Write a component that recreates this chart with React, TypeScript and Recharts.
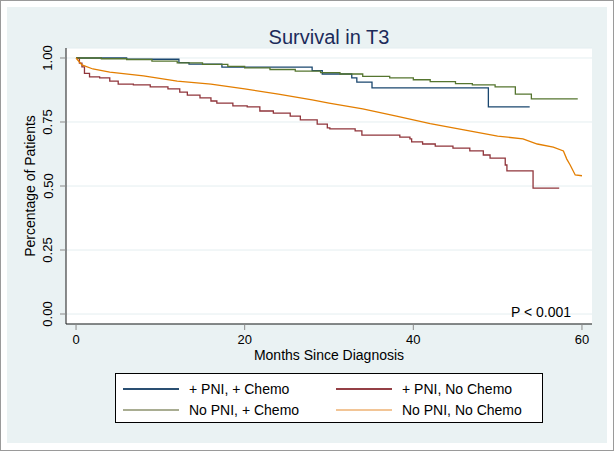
import { LineChart, Line, XAxis, YAxis, CartesianGrid } from "recharts"

// Kaplan-Meier estimates (months, survival fraction)
const pniChemoMonths = [0, 6, 12.2, 13.4, 17.3, 28, 29.2, 32.7, 33.3, 35.1, 48.9, 53.8]
const pniChemoSurv = [1, 0.995, 0.982, 0.976, 0.964, 0.951, 0.9375, 0.922, 0.906, 0.883, 0.809, 0.809]

const pniNoChemoMonths = [
  0, 0.4, 0.7, 1.0, 1.6, 2.8, 4.0, 5.0, 6.8, 8.8, 10.9, 12.3, 13.2, 14.7, 16.0, 16.7, 18.6, 20.3,
  21.8, 23.4, 25.4, 26.6, 28.6, 29.8, 30.1, 33.1, 33.9, 38.4, 39.6, 39.8, 41.1, 42.6, 44.7, 46.7,
  48.3, 49.1, 50.9, 51.1, 54.2, 57.3,
]
const pniNoChemoSurv = [
  1, 0.98, 0.965, 0.94, 0.926, 0.922, 0.91, 0.898, 0.895, 0.887, 0.879, 0.867, 0.855, 0.844, 0.832,
  0.824, 0.813, 0.809, 0.793, 0.785, 0.773, 0.758, 0.742, 0.727, 0.723, 0.715, 0.699, 0.691, 0.684,
  0.672, 0.664, 0.656, 0.648, 0.637, 0.621, 0.609, 0.582, 0.559, 0.492, 0.492,
]

const noPniChemoMonths = [
  0, 3, 6, 9, 12, 15, 18, 20, 23, 26, 29, 31.3, 34, 37.2, 40, 42, 45, 47, 49.7, 52.1, 54, 59.5,
]
const noPniChemoSurv = [
  1, 0.997, 0.994, 0.988, 0.981, 0.975, 0.967, 0.961, 0.955, 0.949, 0.943, 0.9375, 0.928, 0.922,
  0.915, 0.908, 0.9, 0.895, 0.887, 0.859, 0.84, 0.84,
]

const noPniNoChemoMonths = [
  0, 0.7, 2, 4, 8, 12, 16, 20, 24, 28, 30, 34, 38, 42, 46, 50, 53, 54.7, 56.6, 57.8, 58.2, 58.6,
  59.2, 60,
]
const noPniNoChemoSurv = [
  1, 0.973, 0.957, 0.945, 0.93, 0.91, 0.898, 0.879, 0.859, 0.836, 0.824, 0.801, 0.773, 0.744, 0.719,
  0.695, 0.684, 0.664, 0.652, 0.637, 0.605, 0.582, 0.543, 0.54,
]

const labels = ["+ PNI, + Chemo", "+ PNI, No Chemo", "No PNI, + Chemo", "No PNI, No Chemo"]
const xTicks = [0, 20, 40, 60]
const yTicks = [0, 0.25, 0.5, 0.75, 1]

const toPoints = (months: number[], surv: number[]) => months.map((t, i) => ({ t, s: surv[i] }))

const series = [
  { name: labels[0], data: toPoints(pniChemoMonths, pniChemoSurv), color: "#1a476f", legend: "#2a4f72", type: "stepAfter" },
  { name: labels[1], data: toPoints(pniNoChemoMonths, pniNoChemoSurv), color: "#90353b", legend: "#943f45", type: "stepAfter" },
  { name: labels[2], data: toPoints(noPniChemoMonths, noPniChemoSurv), color: "#55752f", legend: "#a9ad92", type: "stepAfter" },
  { name: labels[3], data: toPoints(noPniNoChemoMonths, noPniNoChemoSurv), color: "#e37e00", legend: "#f2c596", type: "linear" },
] as const

const font = "'Liberation Sans', Arial, Helvetica, sans-serif"

const XTick = ({ x, y, payload }: any) => (
  <text x={x} y={y + 7} textAnchor="middle" dominantBaseline="central" fontSize={13} fill="#000" fontFamily={font}>
    {payload.value}
  </text>
)

const YTick = ({ x, y, payload }: any) => (
  <text
    x={x - 10}
    y={y}
    transform={`rotate(-90, ${x - 10}, ${y})`}
    textAnchor="middle"
    dominantBaseline="central"
    fontSize={13}
    fill="#000"
    fontFamily={font}
  >
    {Number(payload.value).toFixed(2)}
  </text>
)

export default function App() {
  return (
    <div
      style={{
        position: "absolute",
        left: 0,
        top: 0,
        width: 612,
        height: 449,
        border: "1px solid #9a9a9a",
        background: "#fff",
        fontFamily: font,
      }}
    >
      <div style={{ position: "absolute", left: 6, top: 6, width: 600, height: 436, background: "#eaf2f3" }} />
      <div style={{ position: "absolute", left: -1, top: -1 }}>
        <LineChart width={614} height={451} margin={{ top: 48, right: 22, left: 20, bottom: 97 }}>
          <CartesianGrid vertical={false} stroke="#e4eef0" fill="#ffffff" />
          <XAxis
            dataKey="t"
            type="number"
            domain={[-1.19, 61.19]}
            ticks={xTicks}
            allowDataOverflow
            height={30}
            tickSize={6}
            axisLine={{ stroke: "#1a1a1a" }}
            tickLine={{ stroke: "#8a8a8a" }}
            tick={<XTick />}
          />
          <YAxis
            type="number"
            domain={[-0.039, 1.039]}
            ticks={yTicks}
            allowDataOverflow
            width={46}
            tickSize={6}
            axisLine={{ stroke: "#1a1a1a" }}
            tickLine={{ stroke: "#8a8a8a" }}
            tick={<YTick />}
          />
          {series.map((s) => (
            <Line
              key={s.name}
              data={s.data as any}
              dataKey="s"
              name={s.name}
              type={s.type}
              stroke={s.color}
              strokeWidth={1.3}
              dot={false}
              activeDot={false}
              isAnimationActive={false}
            />
          ))}
          <text x={329} y={37} textAnchor="middle" dominantBaseline="central" fontSize={20} fill="#1c2b5a" fontFamily={font}>
            Survival in T3
          </text>
          <text
            x={30}
            y={186}
            transform="rotate(-90, 30, 186)"
            textAnchor="middle"
            dominantBaseline="central"
            fontSize={14}
            fill="#000"
            fontFamily={font}
          >
            Percentage of Patients
          </text>
          <text x={329} y={355} textAnchor="middle" dominantBaseline="central" fontSize={14} fill="#000" fontFamily={font}>
            Months Since Diagnosis
          </text>
          <text x={571} y={312} textAnchor="end" dominantBaseline="central" fontSize={14} fill="#000" fontFamily={font}>
            P {"<"} 0.001
          </text>
        </LineChart>
      </div>
      <div
        style={{
          position: "absolute",
          left: 114,
          top: 372,
          width: 426,
          height: 48,
          border: "1px solid #000",
          background: "#fff",
        }}
      >
        {series.map((s, i) => {
          const col = i % 2
          const row = Math.floor(i / 2)
          return (
            <div
              key={s.name}
              style={{
                position: "absolute",
                left: col === 0 ? 7 : 220,
                top: row === 0 ? 6 : 27,
                height: 18,
                display: "flex",
                alignItems: "center",
                whiteSpace: "nowrap",
              }}
            >
              <span style={{ display: "inline-block", width: 56, height: 2, background: s.legend }} />
              <span style={{ marginLeft: 10, fontSize: 14, color: "#000" }}>{s.name}</span>
            </div>
          )
        })}
      </div>
    </div>
  )
}
